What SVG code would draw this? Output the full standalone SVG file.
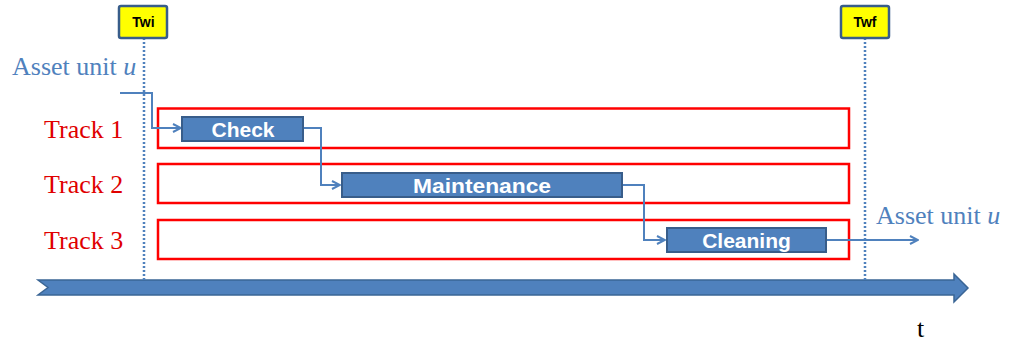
<svg xmlns="http://www.w3.org/2000/svg" width="1013" height="345" viewBox="0 0 1013 345">
  <style>
    .track { fill: none; stroke: #ff0000; stroke-width: 2.5; }
    .task { fill: #4f81bd; stroke: #385d8a; stroke-width: 2; }
    .task-label { font-family: "Liberation Sans", Arial, sans-serif; font-weight: bold; font-size: 21px; fill: #ffffff; text-anchor: middle; }
    .track-label { font-family: "Liberation Serif", "DejaVu Serif", serif; font-size: 26px; fill: #e00000; }
    .asset-label { font-family: "Liberation Serif", "DejaVu Serif", serif; font-size: 26px; fill: #4f81bd; }
    .window { fill: #ffff00; stroke: #385d8a; stroke-width: 2.5; }
    .window-label { font-family: "Liberation Sans", Arial, sans-serif; font-weight: bold; font-size: 14px; fill: #000000; text-anchor: middle; }
    .guide { stroke: #4f81bd; stroke-width: 2.5; stroke-dasharray: 2 2; fill: none; }
    .flow { fill: none; stroke: #4f81bd; stroke-width: 2; }
  </style>
  <defs>
    <marker id="open-arrow" viewBox="0 0 10 10" refX="9" refY="5" markerWidth="5" markerHeight="5" orient="auto" markerUnits="strokeWidth">
      <polyline points="1,1 9,5 1,9" fill="none" stroke="#4f81bd" stroke-width="2"/>
    </marker>
  </defs>

  <rect width="1013" height="345" fill="#ffffff"/>

  <!-- time axis -->
  <g id="time-axis">
    <path d="M38,280 L954,280 L954,274 L968,288 L954,302 L954,295 L38,295 L48,287.5 Z" fill="#4f81bd" stroke="#3a6595" stroke-width="1.5"/>
    <text x="917" y="337" font-family="Liberation Serif, serif" font-size="26" fill="#000000">t</text>
  </g>

  <!-- window bounds -->
  <g id="window-start">
    <line class="guide" x1="144" y1="38" x2="144" y2="281"/>
    <rect class="window" x="119" y="6" width="48" height="32" rx="2"/>
    <text class="window-label" x="143.5" y="27">Twi</text>
  </g>
  <g id="window-end">
    <line class="guide" x1="865" y1="38" x2="865" y2="281"/>
    <rect class="window" x="841" y="6" width="48" height="32" rx="2"/>
    <text class="window-label" x="865" y="27">Twf</text>
  </g>

  <!-- tracks -->
  <g id="track-1">
    <rect class="track" x="158" y="108.5" width="691" height="39.5"/>
    <text class="track-label" x="44" y="138">Track 1</text>
  </g>
  <g id="track-2">
    <rect class="track" x="158" y="164" width="691" height="39"/>
    <text class="track-label" x="44" y="193">Track 2</text>
  </g>
  <g id="track-3">
    <rect class="track" x="158" y="220" width="691" height="39"/>
    <text class="track-label" x="44" y="249">Track 3</text>
  </g>

  <!-- asset unit entry / exit -->
  <g id="asset-in">
    <text class="asset-label" x="12" y="75">Asset unit <tspan font-style="italic">u</tspan></text>
  </g>
  <g id="asset-out">
    <text class="asset-label" x="876" y="224">Asset unit <tspan font-style="italic">u</tspan></text>
  </g>

  <!-- connectors -->
  <g id="connectors">
    <polyline class="flow" points="120,93 152,93 152,128 181,128" marker-end="url(#open-arrow)"/>
    <polyline class="flow" points="304,128 321,128 321,185 340,185" marker-end="url(#open-arrow)"/>
    <polyline class="flow" points="623,185 644,185 644,240 665,240" marker-end="url(#open-arrow)"/>
    <polyline class="flow" points="827,240 918,240" marker-end="url(#open-arrow)"/>
  </g>

  <!-- tasks -->
  <g id="task-check">
    <rect class="task" x="182" y="117" width="121" height="24"/>
    <text class="task-label" x="243" y="137">Check</text>
  </g>
  <g id="task-maintenance">
    <rect class="task" x="342" y="173" width="280" height="24"/>
    <text class="task-label" x="482" y="193" textLength="138" lengthAdjust="spacingAndGlyphs">Maintenance</text>
  </g>
  <g id="task-cleaning">
    <rect class="task" x="667" y="228" width="159" height="24"/>
    <text class="task-label" x="746.5" y="248">Cleaning</text>
  </g>
</svg>
